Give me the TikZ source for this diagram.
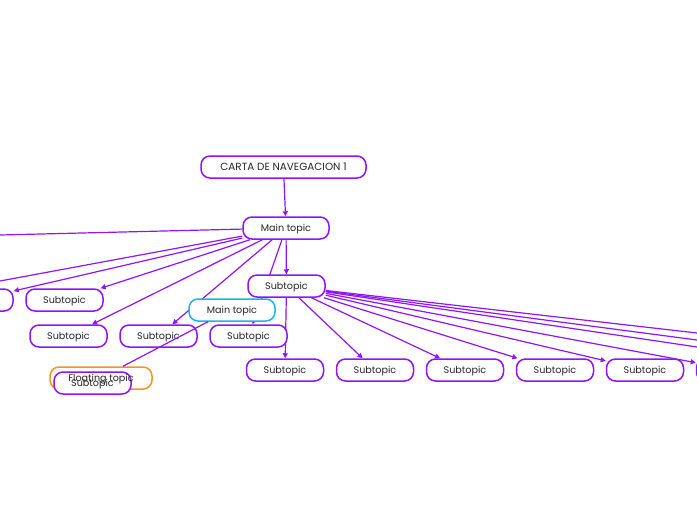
\documentclass[tikz,border=0pt]{standalone}
\usepackage{fontspec}
\setmainfont{Poppins}
\usetikzlibrary{arrows.meta,backgrounds}
\definecolor{pur}{HTML}{9013FE}
\definecolor{cyanb}{HTML}{1AB3EE}
\definecolor{orng}{HTML}{F7941D}
\definecolor{txt}{HTML}{262626}
\begin{document}
\begin{tikzpicture}[x=1pt,y=-1pt,
  fnt/.style={font=\fontsize{9.6}{11}\selectfont, text height=0.72em, text depth=0.04em},
  box/.style={draw=pur, line width=1.5pt, rounded corners=9pt, fill=white,
    minimum height=22pt, inner sep=0pt, text=txt, fnt},
  sub/.style={box, minimum width=77pt},
  con/.style={draw=pur, line width=1.2pt},
  arr/.style={con, -{Triangle[length=5pt,width=5pt]}},
  plain/.style={inner sep=0pt, text=txt, fnt}]
\useasboundingbox (0,0) rectangle (697,520);
\clip (0,0) rectangle (697,520);
% nodes
\node[box, minimum width=165pt, font=\fontsize{10.4}{12}\selectfont] (root) at (283.5,167) {CARTA DE NAVEGACION 1};
\node[box, minimum width=86pt] (mainA) at (286,228) {Main topic};
\node[sub] (C) at (286.5,286) {Subtopic};
\node[sub] (L1) at (-25.5,300) {Subtopic};
\node[sub] (S1) at (64.5,300) {Subtopic};
\node[sub] (S2) at (68.5,336) {Subtopic};
\node[sub] (S3) at (158.5,336) {Subtopic};
\node[sub] (S4) at (248.5,336) {Subtopic};
\node[box, draw=cyanb, minimum width=86pt] (mainB) at (232,310) {Main topic};
\node[sub] (B1) at (285,370) {Subtopic};
\node[sub] (B2) at (375,370) {Subtopic};
\node[sub] (B3) at (465,370) {Subtopic};
\node[sub] (B4) at (555,370) {Subtopic};
\node[sub] (B5) at (645,370) {Subtopic};
\node[sub] (B6) at (735,370) {Subtopic};
\node[box, draw=orng, minimum width=102pt] (fl) at (101,378) {};
\node[sub] (fs) at (92.5,383) {Subtopic};
\node[plain] (fltext) at (101,378) {Floating topic};
% offscreen ends
\coordinate (oL1) at (0,235);
\coordinate (oL2) at (0,281);
\coordinate (oR1) at (697,333);
\coordinate (oR2) at (697,340);
\coordinate (oR3) at (697,347);
% connectors
\begin{scope}[on background layer]
\draw[arr] (root) -- (mainA);
\draw[con] (mainA) -- (oL1);
\draw[con] (mainA) -- (oL2);
\draw[arr] (mainA) -- (L1);
\draw[arr] (mainA) -- (S1);
\draw[arr] (mainA) -- (S2);
\draw[arr] (mainA) -- (S3);
\draw[arr] (mainA) -- (S4);
\draw[arr] (mainA) -- (C);
\draw[arr] (C) -- (B1);
\draw[arr] (C) -- (B2);
\draw[arr] (C) -- (B3);
\draw[arr] (C) -- (B4);
\draw[arr] (C) -- (B5);
\draw[arr] (C) -- (B6);
\draw[con] (C) -- (oR1);
\draw[con] (C) -- (oR2);
\draw[con] (C) -- (oR3);
\end{scope}
\draw[con] ([xshift=-24pt]mainB.south) -- ([xshift=22pt]fl.north);
\end{tikzpicture}
\end{document}
